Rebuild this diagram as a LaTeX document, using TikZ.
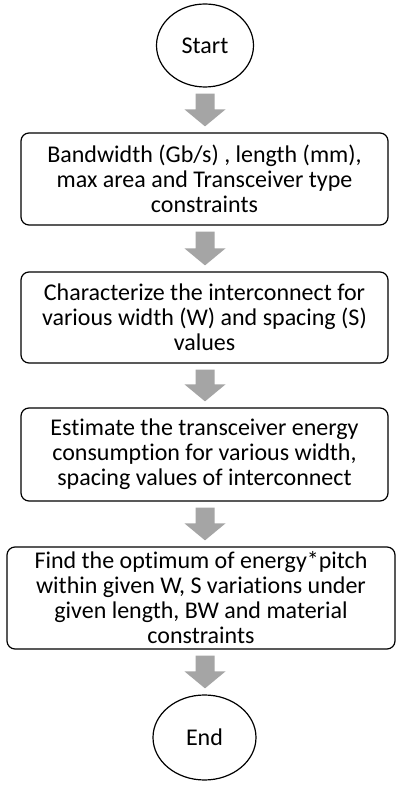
\documentclass[tikz,border=0pt]{standalone}
\usepackage{fontspec}
\setmainfont{Carlito}[Ligatures=NoCommon]
\usetikzlibrary{shapes.geometric,calc}
\definecolor{arrowgray}{RGB}{165,165,165}
\tikzset{
  stepbox/.style={draw=black, line width=1.2pt, rounded corners=8pt, inner sep=0pt,
    align=center, font=\fontsize{24}{25}\selectfont},
  term/.style={draw=black, line width=1.2pt, ellipse, inner sep=0pt,
    font=\fontsize{24}{25}\selectfont},
}
\newcommand\blockarr[3]{%
  \fill[arrowgray] let \p1=(#1.south), \p2=(#2.north), \p3=(#3) in
    (\x3-9.5,\y1-6) -- (\x3+9.5,\y1-6) -- (\x3+9.5,\y2+23) -- (\x3+20.5,\y2+23)
    -- (\x3,\y2+6) -- (\x3-20.5,\y2+23) -- (\x3-9.5,\y2+23) -- cycle;}
\begin{document}
\begin{tikzpicture}[x=1pt,y=1pt]
\useasboundingbox (0,0) rectangle (396,785);
\node[term, minimum width=97pt, minimum height=83pt] (start) at (205,739.5) {Start};
\node[stepbox, minimum width=367pt, minimum height=92pt] (b1) at (204.5,606)
  {Bandwidth (Gb/s) , length (mm),\\max area and Transceiver type\\constraints};
\node[stepbox, minimum width=367pt, minimum height=91pt] (b2) at (204.5,467.5)
  {Characterize the interconnect for\\various width (W) and spacing (S)\\values};
\node[stepbox, minimum width=367pt, minimum height=93pt] (b3) at (204.5,330.5)
  {Estimate the transceiver energy\\consumption for various width,\\spacing values of interconnect};
\node[stepbox, minimum width=388pt, minimum height=102pt] (b4) at (201,187)
  {Find the optimum of energy*pitch\\within given W, S variations under\\given length, BW and material\\constraints};
\node[term, minimum width=103pt, minimum height=85pt] (end) at (204.5,47.5) {End};
\coordinate (ax) at (205,0);
\blockarr{start}{b1}{ax}
\blockarr{b1}{b2}{ax}
\blockarr{b2}{b3}{ax}
\blockarr{b3}{b4}{ax}
\blockarr{b4}{end}{ax}
\end{tikzpicture}
\end{document}
